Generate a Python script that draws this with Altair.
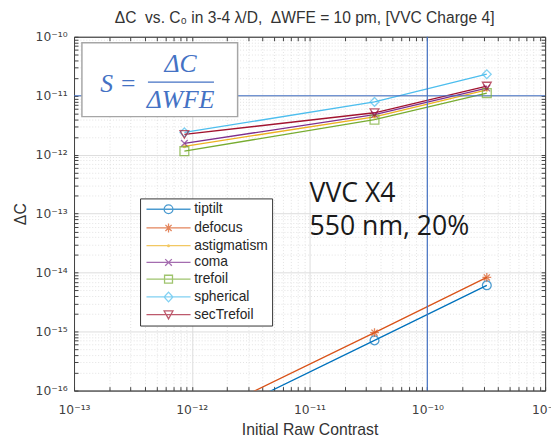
import altair as alt
import pandas as pd

# ---------------- data ----------------
series = ["tiptilt", "defocus", "astigmatism", "coma", "trefoil", "spherical", "secTrefoil"]
colors = ["#0072BD", "#D95319", "#EDB120", "#7E2F8E", "#77AC30", "#4DBEEE", "#A2142F"]
x_vals = [8.65e-13, 3.56e-11, 3.2e-10]
tiptilt = [1.9e-17, 7.1e-16, 6.1e-15]
defocus = [2.6e-17, 9.6e-16, 8.3e-15]
astigmatism = [1.39e-12, 4.4e-12, 1.26e-11]
coma = [1.56e-12, 4.8e-12, 1.35e-11]
trefoil = [1.15e-12, 3.94e-12, 1.11e-11]
spherical = [2.39e-12, 7.87e-12, 2.32e-11]
secTrefoil = [2.21e-12, 5.15e-12, 1.46e-11]
ref_x = [1e-10]
ref_y = [1e-11]
x_exponents = [-13, -12, -11, -10, -9]
y_exponents = [-16, -15, -14, -13, -12, -11, -10]
sup = {"-": "\u207b", "0": "\u2070", "1": "\u00b9", "2": "\u00b2", "3": "\u00b3", "4": "\u2074",
       "5": "\u2075", "6": "\u2076", "7": "\u2077", "8": "\u2078", "9": "\u2079"}

values = [tiptilt, defocus, astigmatism, coma, trefoil, spherical, secTrefoil]
df = pd.DataFrame([{"series": s, "x": x, "y": y}
                   for s, ys in zip(series, values) for x, y in zip(x_vals, ys)])
ann = pd.DataFrame({"k": [0]})


def log_ticks(exps):
    out = []
    for e in range(exps[0], exps[-1]):
        for m in range(1, 10):
            out.append(float(f"{m}e{e}"))
    out.append(float(f"1e{exps[-1]}"))
    return out


def sup_label(e):
    return "10" + "".join(sup[c] for c in str(e))


MAJOR = "abs(log(datum.value)/LN10 - round(log(datum.value)/LN10)) < 0.001"


def label_expr(exps):
    expr = "''"
    for e in exps:
        expr = f"(round(log(datum.value)/LN10) == {e} ? '{sup_label(e)}' : {expr})"
    return f"{MAJOR} ? {expr} : ''"


GRID_COLOR = {"condition": {"test": MAJOR, "value": "#dcdcdc"}, "value": "#e3e3e3"}
GRID_DASH = {"condition": {"test": MAJOR, "value": []}, "value": [1, 2]}
AX_COLOR = "#404040"


def main_axis(exps, title, **kw):
    return alt.Axis(values=log_ticks(exps), labelExpr=label_expr(exps), title=title,
                    grid=True, gridColor=GRID_COLOR, gridDash=GRID_DASH, gridWidth=1,
                    tickSize={"expr": "-4"}, tickColor=AX_COLOR, domainColor=AX_COLOR,
                    labelFont="DejaVu Sans", labelFontSize=12.5, labelColor="#404040",
                    labelOverlap=False, labelFlush=False,
                    titleFont="Arial", titleFontSize=16, titleFontWeight="normal",
                    titleColor="#333333", **kw)


def opp_axis(exps, orient):
    return alt.Axis(values=log_ticks(exps), orient=orient, labels=False, title=None,
                    grid=False, tickSize={"expr": "-4"}, tickColor=AX_COLOR,
                    domainColor=AX_COLOR)


xs = alt.Scale(type="log", domain=[1e-13, 1e-9], nice=False)
ys = alt.Scale(type="log", domain=[1e-16, 1e-10], nice=False)
cs = alt.Scale(domain=series, range=colors)

asterisk = "M-1,0L1,0M0,-1L0,1M-0.7,-0.7L0.7,0.7M-0.7,0.7L0.7,-0.7"
dot = "M-0.3,0A0.3,0.3 0 1,1 0.3,0A0.3,0.3 0 1,1 -0.3,0"
xmark = "M-0.75,-0.75L0.75,0.75M-0.75,0.75L0.75,-0.75"
point_shapes = ["circle", asterisk, dot, xmark, "square", "diamond", "triangle-down"]

L = "M-1,0H9"
legend_shapes = [
    L + "M3,0A1,1 0 1,1 5,0A1,1 0 1,1 3,0",
    L + "M3,0L5,0M4,-1L4,1M3.3,-0.7L4.7,0.7M3.3,0.7L4.7,-0.7",
    L + "M3.8,0A0.2,0.2 0 1,1 4.2,0A0.2,0.2 0 1,1 3.8,0",
    L + "M3.25,-0.75L4.75,0.75M3.25,0.75L4.75,-0.75",
    L + "M3.1,-0.9H4.9V0.9H3.1Z",
    L + "M4,-1.1L5,0L4,1.1L3,0Z",
    L + "M3,-0.85H5L4,0.95Z",
]

base = alt.Chart(df)

lines = base.mark_line(strokeWidth=1.3, clip=True).encode(
    x=alt.X("x:Q", scale=xs, axis=main_axis(x_exponents, "Initial Raw Contrast", titlePadding=6, labelPadding=17)),
    y=alt.Y("y:Q", scale=ys, axis=main_axis(y_exponents, "\u0394C", titlePadding=7, labelPadding=11)),
    color=alt.Color("series:N", scale=cs, legend=None),
    detail="series:N",
)

points = base.mark_point(filled=False, size=80, strokeWidth=1.3, clip=True).encode(
    x=alt.X("x:Q", scale=xs, axis=opp_axis(x_exponents, "top")),
    y=alt.Y("y:Q", scale=ys, axis=opp_axis(y_exponents, "right")),
    color=alt.Color("series:N", scale=cs, legend=None),
    shape=alt.Shape("series:N", scale=alt.Scale(domain=series, range=point_shapes), legend=None),
)

legend_layer = base.transform_filter("false").mark_point(filled=False, size=80, strokeWidth=1.3).encode(
    x=alt.X("x:Q", scale=xs, axis=None),
    y=alt.Y("y:Q", scale=ys, axis=None),
    color=alt.Color("series:N", scale=cs, legend=alt.Legend(title=None)),
    shape=alt.Shape("series:N", scale=alt.Scale(domain=series, range=legend_shapes),
                    legend=alt.Legend(title=None)),
)

vref = alt.Chart(pd.DataFrame({"x": ref_x})).mark_rule(color="#4472C4", strokeWidth=1.2).encode(
    x=alt.X("x:Q", scale=xs, axis=None))
href = alt.Chart(pd.DataFrame({"y": ref_y})).mark_rule(color="#4472C4", strokeWidth=1.2).encode(
    y=alt.Y("y:Q", scale=ys, axis=None))

annb = alt.Chart(ann)
box = annb.mark_rect(fill="white", stroke="#a6a6a6", strokeWidth=1.5).encode(
    x=alt.value(8), x2=alt.value(166), y=alt.value(6), y2=alt.value(81))
BLUE = "#4472C4"
s_txt = annb.mark_text(text="S", font="Liberation Serif", fontStyle="italic", fontSize=26,
                       color=BLUE, align="center", baseline="middle").encode(x=alt.value(33), y=alt.value(48))
eq_txt = annb.mark_text(text="=", font="Liberation Serif", fontSize=26,
                        color=BLUE, align="center", baseline="middle").encode(x=alt.value(55), y=alt.value(48))
num_txt = annb.mark_text(text="\u0394C", font="Liberation Serif", fontStyle="italic", fontSize=26,
                         color=BLUE, align="center", baseline="middle").encode(x=alt.value(108), y=alt.value(28))
bar = annb.mark_rule(color=BLUE, strokeWidth=1.3).encode(
    x=alt.value(75), x2=alt.value(142), y=alt.value(46))
den_txt = annb.mark_text(text="\u0394WFE", font="Liberation Serif", fontStyle="italic", fontSize=26,
                         color=BLUE, align="center", baseline="middle").encode(x=alt.value(108), y=alt.value(64))
vvc1 = annb.mark_text(text="VVC X4", font="Open Sans", fontSize=27, color="#1a1a1a",
                      align="left", baseline="alphabetic").encode(x=alt.value(239), y=alt.value(168))
vvc2 = annb.mark_text(text="550 nm, 20%", font="Open Sans", fontSize=27, color="#1a1a1a",
                      align="left", baseline="alphabetic").encode(x=alt.value(239), y=alt.value(201))

chart = alt.layer(
    lines, vref, href, points, legend_layer, box, s_txt, eq_txt, num_txt, bar, den_txt, vvc1, vvc2
).resolve_scale(
    color="independent", shape="independent"
).resolve_axis(
    x="independent", y="independent"
).properties(
    width=478, height=359,
    title=alt.TitleParams(
        text="\u0394C\u00a0 vs. C\u2080 in 3-4 \u03bb/D,\u00a0 \u0394WFE = 10 pm, [VVC Charge 4]",
        font="Arial", fontSize=15.8, fontWeight="normal", color="#333333", offset=4,
        anchor="middle", frame="group", dx=-5),
    autosize=alt.AutoSizeParams(type="none"),
    padding={"left": 67, "top": 26, "right": 6, "bottom": 52},
).configure_view(
    stroke=AX_COLOR, strokeWidth=1
).configure_legend(
    orient="none", legendX=67, legendY=164,
    symbolSize=80, symbolStrokeWidth=1.3, symbolFillColor="transparent",
    labelFont="Arial", labelFontSize=14, labelColor="#262626",
    strokeColor="#333333", fillColor="white", padding=4, rowPadding=3, labelOffset=37,
    cornerRadius=0,
)

chart.save("out.html", embed_options={"renderer": "svg", "actions": False})
